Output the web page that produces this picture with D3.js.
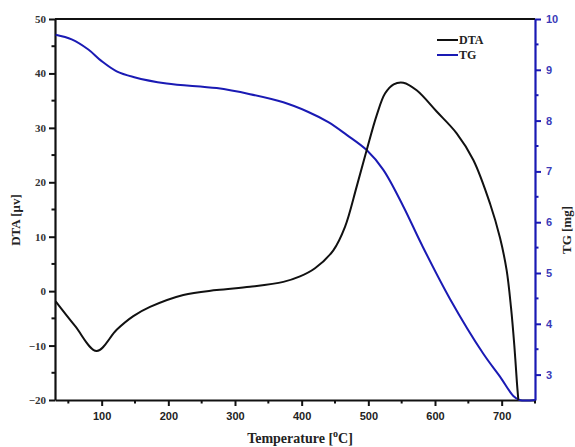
<!DOCTYPE html>
<html>
<head>
<meta charset="utf-8">
<script src="https://cdn.jsdelivr.net/npm/d3@7"></script>
<style>
  html, body { margin: 0; padding: 0; background: #fff; }
  svg { display: block; }
</style>
</head>
<body>
<svg id="chart" width="575" height="447"></svg>
<script>
// ---- Data ----
const dtaTemp = [31, 60, 92.5, 122.5, 147.5, 172.5, 222.5, 272.5, 322.5, 372.5, 397.5, 420, 447.5, 465, 482.5, 497.5, 512.5, 525, 538, 552.5, 572.5, 602.5, 632.5, 657.5, 682.5, 697.5, 707.5, 714, 719, 723, 725];
const dtaValue = [-1.9, -6.4, -11.0, -7.1, -4.6, -2.9, -0.7, 0.2, 0.8, 1.7, 2.7, 4.2, 7.5, 11.8, 19.2, 25.9, 32.3, 36.3, 38.0, 38.3, 36.9, 33.0, 29.0, 24.1, 16.1, 9.8, 3.8, -3.0, -10.0, -17.0, -20];

const tgTemp = [31, 55, 80, 100, 122.5, 147.5, 197.5, 272.5, 322.5, 372.5, 410, 440, 467.5, 497.5, 522.5, 552.5, 580, 622.5, 672.5, 697.5, 717.5, 727, 750];
const tgValue = [9.69, 9.6, 9.4, 9.17, 8.97, 8.86, 8.73, 8.64, 8.52, 8.36, 8.17, 7.97, 7.72, 7.42, 7.03, 6.31, 5.56, 4.49, 3.41, 2.96, 2.58, 2.5, 2.5];

const xTicks = [100, 200, 300, 400, 500, 600, 700];
const dtaTicks = [-20, -10, 0, 10, 20, 30, 40, 50];
const tgTicks = [3, 4, 5, 6, 7, 8, 9, 10];
const seriesNames = ["DTA", "TG"];

// ---- Layout ----
const L = 55, R = 535, T = 19, B = 400;
const black = "#111";
const blue = "#1a1ab4";

const svg = d3.select("#chart");

const x = d3.scaleLinear().domain([30, 750]).range([L, R]);
const yL = d3.scaleLinear().domain([-20, 50]).range([B, T]);
const yR = d3.scaleLinear().domain([2.5, 10]).range([B, T]);

// top border
svg.append("line").attr("x1", L).attr("x2", R).attr("y1", T).attr("y2", T)
  .attr("stroke", black).attr("stroke-width", 2);

// minor ticks
const xMinor = d3.range(50, 751, 100);
svg.append("g").selectAll("line").data(xMinor).join("line")
  .attr("x1", d => x(d)).attr("x2", d => x(d)).attr("y1", B).attr("y2", B + 3.5)
  .attr("stroke", black).attr("stroke-width", 2);
const yLMinor = d3.range(-15, 50, 10);
svg.append("g").selectAll("line").data(yLMinor).join("line")
  .attr("x1", L - 3.5).attr("x2", L).attr("y1", d => yL(d)).attr("y2", d => yL(d))
  .attr("stroke", black).attr("stroke-width", 2);
const yRMinor = d3.range(3.5, 10, 1);
svg.append("g").selectAll("line").data(yRMinor).join("line")
  .attr("x1", R).attr("x2", R + 3.5).attr("y1", d => yR(d)).attr("y2", d => yR(d))
  .attr("stroke", blue).attr("stroke-width", 2);

// bottom axis
const gx = svg.append("g").attr("transform", `translate(0,${B})`)
  .call(d3.axisBottom(x).tickValues(xTicks).tickSize(6).tickPadding(6).tickSizeOuter(0));
gx.select(".domain").attr("stroke", black).attr("stroke-width", 2.2);
gx.selectAll(".tick line").attr("stroke", black).attr("stroke-width", 2);
gx.selectAll("text").attr("fill", "#222").style("font-family", "Liberation Sans, Arial, sans-serif")
  .style("font-size", "11px").style("font-weight", "bold");

// left axis
const gl = svg.append("g").attr("transform", `translate(${L},0)`)
  .call(d3.axisLeft(yL).tickValues(dtaTicks).tickSize(6).tickPadding(3).tickSizeOuter(0));
gl.select(".domain").attr("stroke", black).attr("stroke-width", 2.2);
gl.selectAll(".tick line").attr("stroke", black).attr("stroke-width", 2);
gl.selectAll("text").attr("fill", "#333").style("font-family", "Liberation Serif, Times New Roman, serif")
  .style("font-size", "11px").style("font-weight", "bold");

// right axis
const gr = svg.append("g").attr("transform", `translate(${R},0)`)
  .call(d3.axisRight(yR).tickValues(tgTicks).tickSize(6).tickPadding(5).tickSizeOuter(0));
gr.select(".domain").attr("stroke", blue).attr("stroke-width", 2.2);
gr.selectAll(".tick line").attr("stroke", blue).attr("stroke-width", 2);
gr.selectAll("text").attr("fill", "#3a3ab8").style("font-family", "Liberation Sans, Arial, sans-serif")
  .style("font-size", "11px").style("font-weight", "bold");

// lines
const dtaData = dtaTemp.map((t, i) => [t, dtaValue[i]]);
const tgData = tgTemp.map((t, i) => [t, tgValue[i]]);

svg.append("path").datum(tgData)
  .attr("fill", "none").attr("stroke", blue).attr("stroke-width", 2)
  .attr("d", d3.line().x(d => x(d[0])).y(d => yR(d[1])).curve(d3.curveCatmullRom.alpha(0.5)));

svg.append("path").datum(dtaData)
  .attr("fill", "none").attr("stroke", black).attr("stroke-width", 2)
  .attr("d", d3.line().x(d => x(d[0])).y(d => yL(d[1])).curve(d3.curveCatmullRom.alpha(0.5)));

// axis titles
svg.append("text")
  .attr("transform", `translate(20,220) rotate(-90)`)
  .attr("text-anchor", "middle")
  .style("font-family", "Liberation Serif, Times New Roman, serif")
  .style("font-size", "13px").style("font-weight", "bold").attr("fill", "#222")
  .text("DTA [μv]");

svg.append("text")
  .attr("transform", `translate(571,230) rotate(-90)`)
  .attr("text-anchor", "middle")
  .style("font-family", "Liberation Serif, Times New Roman, serif")
  .style("font-size", "13px").style("font-weight", "bold").attr("fill", "#222")
  .text("TG [mg]");

const xt = svg.append("text")
  .attr("x", 300).attr("y", 443)
  .attr("text-anchor", "middle")
  .style("font-family", "Liberation Serif, Times New Roman, serif")
  .style("font-size", "14px").style("font-weight", "bold").attr("fill", "#222");
xt.append("tspan").text("Temperature [");
xt.append("tspan").attr("dy", -6).style("font-size", "10px").text("o");
xt.append("tspan").attr("dy", 6).text("C]");

// legend
const legColors = [black, blue];
const leg = svg.append("g");
seriesNames.forEach((name, i) => {
  const yy = 40 + i * 15;
  leg.append("line").attr("x1", 437).attr("x2", 458).attr("y1", yy).attr("y2", yy)
    .attr("stroke", legColors[i]).attr("stroke-width", 2);
  leg.append("text").attr("x", 459).attr("y", yy + 4)
    .style("font-family", "Liberation Serif, Times New Roman, serif")
    .style("font-size", "12px").style("font-weight", "bold").attr("fill", "#222")
    .text(name);
});
</script>
</body>
</html>
